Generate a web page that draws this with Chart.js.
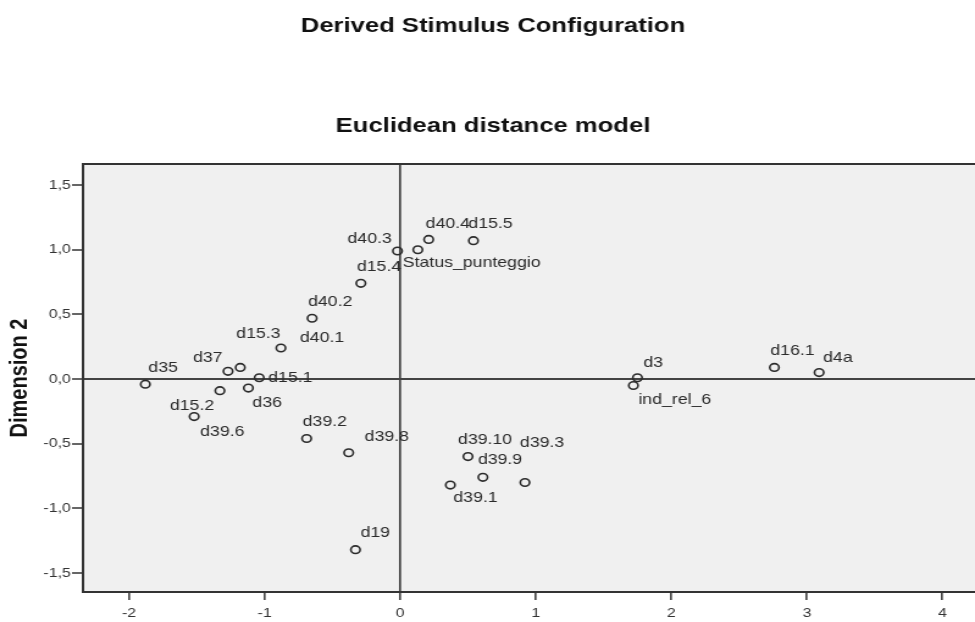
<!DOCTYPE html>
<html>
<head>
<meta charset="utf-8">
<title>Derived Stimulus Configuration</title>
<script src="https://cdn.jsdelivr.net/npm/chart.js@4/dist/chart.umd.min.js"></script>
<style>
  html, body { margin: 0; padding: 0; background: #fff; overflow: hidden; }
  /* the SPSS export is stretched sideways, so the canvas is drawn narrow and widened by css */
  #chart { width: 975px !important; height: 622px !important; display: block; }
</style>
</head>
<body>
<canvas id="chart" width="799" height="622" style="width:975px;height:622px"></canvas>
<script>
// Data
const pointNames = [
    'd35', 'd37', 'd15.3', 'd15.1', 'd36', 'd15.2', 'd39.6', 'd40.1', 'd40.2', 'd15.4',
    'd40.3', 'Status_punteggio', 'd40.4', 'd15.5', 'd39.2', 'd39.8', 'd19', 'd39.10',
    'd39.9', 'd39.1', 'd39.3', 'd3', 'ind_rel_6', 'd16.1', 'd4a'
];
const dimension1 = [
    -1.88, -1.27, -1.18, -1.04, -1.12, -1.33, -1.52, -0.88, -0.65, -0.29,
    -0.02, 0.13, 0.21, 0.54, -0.69, -0.38, -0.33, 0.50,
    0.61, 0.37, 0.92, 1.75, 1.72, 2.76, 3.09
];
const dimension2 = [
    -0.04, 0.06, 0.09, 0.01, -0.07, -0.09, -0.29, 0.24, 0.47, 0.74,
    0.99, 1.00, 1.08, 1.07, -0.46, -0.57, -1.32, -0.60,
    -0.76, -0.82, -0.80, 0.01, -0.05, 0.09, 0.05
];
const xTickValues = [-2, -1, 0, 1, 2, 3, 4];
const xTickLabels = ['-2', '-1', '0', '1', '2', '3', '4'];
const yTickValues = [-1.5, -1, -0.5, 0, 0.5, 1, 1.5];
const yTickLabels = ['-1,5', '-1,0', '-0,5', '0,0', '0,5', '1,0', '1,5'];

// Label placement next to each point (screen px, left edge / middle of text)
const labelOffsets = [
    [3, -16], [-35, -13], [-4, -33], [9, 0], [4, 15], [-50, 15], [6, 15], [19, -10], [-4, -16], [-4, -16],
    [-50, -12], [-15, 13], [-3, -15], [-5, -17], [-4, -17], [16, -16], [5, -17], [-10, -17],
    [-5, -17], [3, 13], [-5, -39], [6, -15], [5, 15], [-4, -16], [4, -15]
];

const STRETCH = 975 / 799;
const FONT = '"Liberation Sans", Arial, sans-serif';
const INK = '#2b2b2b';

const points = dimension1.map((x, i) => ({ x: x, y: dimension2[i] }));

// Plot background, top frame line and the two headings
const framePlugin = {
    id: 'frame',
    afterLayout(chart) {
        // plot runs off the right edge like the original, so drop the room kept for the last label
        const a = chart.chartArea;
        const x = chart.scales.x;
        a.right = chart.width;
        a.width = a.right - a.left;
        x.right = chart.width;
        x.width = x.right - x.left;
        x.configure();
    },
    beforeDraw(chart) {
        const { ctx, chartArea: a } = chart;
        ctx.save();
        ctx.fillStyle = '#f0f0f0';
        ctx.fillRect(a.left, a.top, a.right - a.left, a.bottom - a.top);
        ctx.restore();
    },
    afterDraw(chart) {
        const { ctx, chartArea: a } = chart;
        ctx.save();
        ctx.strokeStyle = '#333';
        ctx.lineWidth = 2;
        ctx.beginPath();
        ctx.moveTo(a.left, a.top);
        ctx.lineTo(a.right, a.top);
        ctx.stroke();

        ctx.fillStyle = '#111';
        ctx.textAlign = 'center';
        ctx.textBaseline = 'alphabetic';
        ctx.font = 'bold 21px ' + FONT;
        const cx = 493 / STRETCH;
        ctx.fillText('Derived Stimulus Configuration', cx, 32);
        ctx.fillText('Euclidean distance model', cx, 132);
        ctx.restore();
    }
};

// Point names
const labelPlugin = {
    id: 'pointLabels',
    afterDatasetsDraw(chart) {
        const { ctx } = chart;
        const meta = chart.getDatasetMeta(0);
        ctx.save();
        ctx.font = '14.5px ' + FONT;
        ctx.fillStyle = INK;
        ctx.textAlign = 'left';
        ctx.textBaseline = 'middle';
        meta.data.forEach((pt, i) => {
            const off = labelOffsets[i];
            ctx.fillText(pointNames[i], pt.x + off[0] / STRETCH, pt.y + off[1]);
        });
        ctx.restore();
    }
};

const zeroLine = (c) => (c.tick && c.tick.value === 0 ? '#444' : 'rgba(0,0,0,0)');

new Chart(document.getElementById('chart'), {
    type: 'scatter',
    data: {
        datasets: [{
            data: points,
            pointStyle: 'circle',
            pointRadius: 3.8,
            pointBorderWidth: 1.6,
            borderColor: INK,
            backgroundColor: 'rgba(0,0,0,0)'
        }]
    },
    options: {
        responsive: false,
        devicePixelRatio: 1,
        animation: false,
        events: [],
        layout: { padding: { top: 164, left: 0, right: 0, bottom: 0 } },
        plugins: {
            legend: { display: false },
            tooltip: { enabled: false },
            title: { display: false }
        },
        scales: {
            x: {
                type: 'linear',
                min: -2.34,
                max: 4.24,
                afterBuildTicks: (s) => { s.ticks = xTickValues.map(v => ({ value: v })); },
                afterFit: (s) => { s.height = 30; },
                ticks: {
                    autoSkip: false,
                    maxRotation: 0,
                    padding: 6,
                    color: '#333',
                    font: { family: FONT, size: 13 },
                    callback: (v, i) => xTickLabels[i]
                },
                grid: {
                    color: zeroLine,
                    lineWidth: 1.7,
                    tickColor: '#333',
                    tickLength: 8,
                    tickWidth: 1.5
                },
                border: { display: true, color: '#333', width: 2 }
            },
            y: {
                type: 'linear',
                min: -1.647,
                max: 1.663,
                afterBuildTicks: (s) => { s.ticks = yTickValues.map(v => ({ value: v })); },
                afterFit: (s) => { s.width = 68; },
                ticks: {
                    autoSkip: false,
                    padding: 1,
                    color: '#333',
                    font: { family: FONT, size: 13 },
                    callback: (v, i) => yTickLabels[i]
                },
                grid: {
                    color: zeroLine,
                    lineWidth: 2,
                    tickColor: '#333',
                    tickLength: 9,
                    tickWidth: 1.5
                },
                border: { display: true, color: '#333', width: 2 },
                title: {
                    display: true,
                    text: 'Dimension 2',
                    color: '#111',
                    font: { family: FONT, size: 20, weight: 'bold' },
                    padding: { top: 4, bottom: 0 }
                }
            }
        }
    },
    plugins: [framePlugin, labelPlugin]
});
</script>
</body>
</html>
